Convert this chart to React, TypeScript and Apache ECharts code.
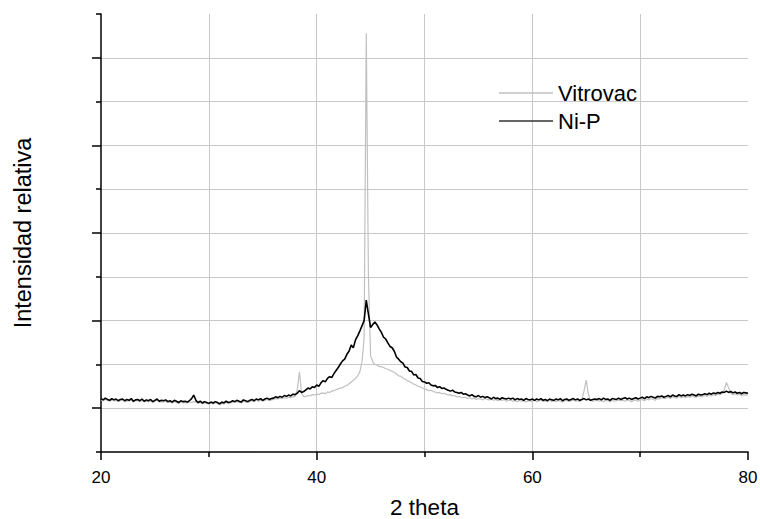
import React, { useEffect, useRef } from "react";
import * as echarts from "echarts";

// 2θ sampling grid (step 0.2°, 20°–80°)
const twoTheta: number[] = Array.from({ length: 301 }, (_, i) => +(20 + i * 0.2).toFixed(1));

// Ni-P intensities (arbitrary units)
const niP: number[] = [
  122,119,123,120,118,122,119,121,117,120,
  121,117,120,118,122,116,119,120,117,121,
  116,119,117,120,115,118,121,116,118,117,
  119,115,117,114,118,116,113,117,115,116,
  114,117,122,130,118,113,116,112,115,113,
  111,114,112,115,113,110,114,112,116,113,
  114,117,115,118,116,114,119,117,115,118,
  120,117,121,119,122,118,121,123,120,122,
  123,126,124,127,125,129,127,130,128,132,
  131,134,140,136,138,142,146,144,149,147,
  153,150,158,163,160,168,172,170,179,186,
  193,201,208,212,223,230,244,238,256,265,
  276,288,300,347,315,284,291,297,290,281,
  273,262,258,249,241,238,230,217,212,206,
  203,194,193,185,184,176,177,169,168,161,
  160,157,158,153,151,152,147,149,145,146,
  143,141,139,141,137,136,134,136,132,133,
  130,128,131,127,126,129,125,127,124,126,
  124,121,125,122,123,120,124,122,121,123,
  121,123,119,122,120,121,118,122,120,119,
  121,118,121,119,122,118,120,117,121,119,
  118,121,119,122,117,120,121,118,120,122,
  119,121,118,120,122,119,121,118,120,121,
  120,122,119,123,120,121,118,122,121,120,
  123,120,122,124,121,123,120,122,124,121,
  123,125,122,126,124,127,125,123,127,126,
  128,125,127,129,126,130,128,127,131,128,
  130,128,131,129,132,130,128,132,130,131,
  133,131,134,132,135,133,136,134,137,136,
  139,136,138,135,137,134,136,133,136,135,
  134,
];

// Vitrovac intensities (arbitrary units)
const vitrovac: number[] = [
  119,117,120,118,116,119,117,118,115,118,
  118,115,117,116,119,114,117,117,115,118,
  114,116,115,117,113,116,118,114,115,114,
  116,113,114,112,115,113,111,114,112,113,
  112,114,113,115,114,111,113,110,112,111,
  109,112,110,112,111,108,111,110,113,111,
  112,114,113,115,113,112,116,114,113,115,
  117,115,118,116,119,116,118,120,117,119,
  120,122,121,123,122,124,123,125,124,126,
  127,142,183,134,126,127,129,128,131,130,
  132,131,134,135,133,137,136,139,140,142,
  144,146,147,150,152,156,160,164,168,174,
  183,205,260,956,400,220,206,200,199,195,
  195,193,190,189,186,184,182,178,174,173,
  169,166,163,161,158,155,153,150,149,146,
  144,143,140,141,138,137,135,136,133,134,
  132,130,131,128,129,126,127,125,124,125,
  122,124,121,123,120,122,121,119,122,120,
  119,121,118,120,117,119,118,120,116,118,
  118,116,117,115,118,116,117,114,117,116,
  116,118,115,117,119,115,117,116,118,115,
  117,115,118,116,114,117,118,115,117,119,
  116,117,115,120,140,164,131,118,116,117,
  118,116,117,115,118,117,114,118,116,117,
  119,117,118,116,119,117,115,118,119,116,
  118,120,117,121,119,122,120,118,122,121,
  124,122,123,125,122,126,124,123,127,124,
  126,124,127,125,128,126,125,128,126,127,
  129,127,130,128,131,129,132,131,133,142,
  159,147,134,131,133,130,132,129,131,130,
  131,
];

const seriesNames = ["Vitrovac", "Ni-P"];
const xAxisTitle = "2 theta";
const yAxisTitle = "Intensidad relativa";

const FONT = "'Liberation Sans', Arial, sans-serif";

export default function App() {
  const ref = useRef<HTMLDivElement>(null);
  useEffect(() => {
    if (!ref.current) return;
    const chart = echarts.init(ref.current, undefined, { renderer: "svg" });
    const gridColor = "#c8c8c8";
    chart.setOption({
      animation: false,
      backgroundColor: "#ffffff",
      textStyle: { fontFamily: FONT, color: "#000" },
      grid: { left: 101, right: 12, top: 14, bottom: 67, containLabel: false, outerBoundsMode: "none" },
      legend: {
        orient: "vertical",
        left: 499,
        top: 82,
        padding: 0,
        itemGap: 6,
        itemWidth: 54,
        itemHeight: 1.5,
        icon: "rect",
        data: seriesNames,
        textStyle: { fontSize: 22, fontFamily: FONT, color: "#000" },
      },
      xAxis: {
        type: "value",
        min: 20,
        max: 80,
        interval: 20,
        name: xAxisTitle,
        nameLocation: "middle",
        nameGap: 44,
        nameTextStyle: { fontSize: 22.5, fontFamily: FONT, color: "#000" },
        axisLine: { show: true, onZero: false, lineStyle: { color: "#000", width: 1.5 } },
        axisTick: { show: true, length: 8, lineStyle: { color: "#000", width: 1.5 } },
        minorTick: { show: true, splitNumber: 2, length: 5, lineStyle: { color: "#000", width: 1.5 } },
        axisLabel: { fontSize: 17, margin: 17, color: "#000", fontFamily: FONT },
        splitLine: { show: true, showMinLine: false, showMaxLine: false, lineStyle: { color: gridColor, width: 1 } },
        minorSplitLine: { show: true, lineStyle: { color: gridColor, width: 1 } },
      },
      yAxis: {
        type: "value",
        min: 0,
        max: 1000,
        interval: 200,
        name: yAxisTitle,
        nameLocation: "middle",
        nameRotate: 90,
        nameGap: 66,
        nameTextStyle: { fontSize: 23.5, fontFamily: FONT, color: "#000" },
        axisLine: { show: true, onZero: false, lineStyle: { color: "#000", width: 1.5 } },
        axisTick: { show: true, length: 5, lineStyle: { color: "#000", width: 1.5 } },
        minorTick: { show: true, splitNumber: 2, length: 9, lineStyle: { color: "#000", width: 1.5 } },
        axisLabel: { show: false },
        splitLine: { show: true, showMinLine: false, showMaxLine: false, lineStyle: { color: gridColor, width: 1 } },
        minorSplitLine: { show: true, lineStyle: { color: gridColor, width: 1 } },
      },
      series: [
        {
          name: seriesNames[0],
          type: "line",
          data: twoTheta.map((t, i) => [t, vitrovac[i]]),
          showSymbol: false,
          symbol: "none",
          silent: true,
          lineStyle: { color: "#c0c0c0", width: 1.2 },
          itemStyle: { color: "#c0c0c0" },
        },
        {
          name: seriesNames[1],
          type: "line",
          data: twoTheta.map((t, i) => [t, niP[i]]),
          showSymbol: false,
          symbol: "none",
          silent: true,
          lineStyle: { color: "#000000", width: 1.6 },
          itemStyle: { color: "#333333" },
        },
      ],
    });
    return () => chart.dispose();
  }, []);
  return (
    <div
      ref={ref}
      style={{ position: "fixed", left: 0, top: 0, width: 760, height: 519, background: "#fff" }}
    />
  );
}
